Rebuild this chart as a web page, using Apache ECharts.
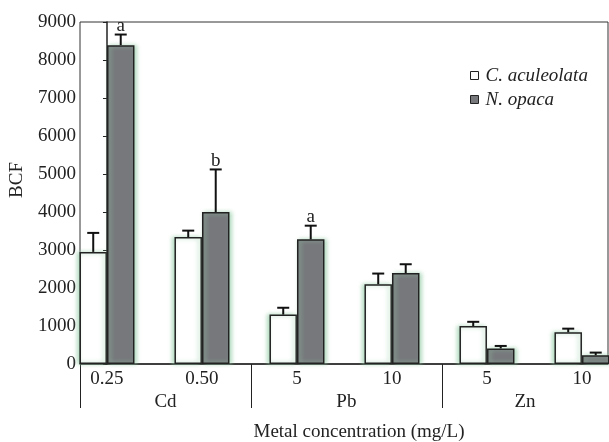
<!DOCTYPE html>
<html>
<head>
<meta charset="utf-8">
<script src="https://cdn.jsdelivr.net/npm/echarts@6/dist/echarts.min.js"></script>
<style>
  html, body { margin: 0; padding: 0; background: #fff; }
  #chart { width: 609px; height: 442px; }
</style>
</head>
<body>
<div id="chart"></div>
<script>
// data
var concLabels = ['0.25', '0.50', '5', '10', '5', '10']
var metals = ['Cd', 'Pb', 'Zn']
var metalPos = [0.616, 2.52, 4.4] // centre of each metal group (in concentration index units)
var groupEdges = [-0.284, 1.516, 3.526] // left axis + separators
var aculeolata = [2950, 3340, 1300, 2100, 1000, 835]
var aculeolataErr = [500, 170, 180, 280, 110, 95]
var opaca = [8390, 4000, 3280, 2395, 410, 230]
var opacaErr = [280, 1120, 360, 230, 65, 70]
var opacaLetters = ['a', 'b', 'a', '', '', '']

var serif = '"Liberation Serif", "DejaVu Serif", serif'
var barW = 27.5
var halo = 'rgba(150,205,168,0.75)'

function pairs(vals, errs, letters) {
  return vals.map(function(v, i) {
    return [i, v, errs[i], letters ? letters[i] : '']
  })
}

function errorSeries(name, vals, errs, letters, side) {
  var data = pairs(vals, errs, letters)
  return {
    name: name + ' err',
    type: 'custom',
    z: 5,
    encode: { x: 0, y: 1 },
    data: data,
    renderItem: function(params, api) {
      var d = data[params.dataIndex]
      var base = api.coord([d[0], d[1]])
      var top = api.coord([d[0], d[1] + d[2]])
      var cx = base[0] + side * barW / 2
      var children = [
        { type: 'line', shape: { x1: cx, y1: base[1], x2: cx, y2: top[1] }, style: { stroke: '#111', lineWidth: 2 } },
        { type: 'line', shape: { x1: cx - 6, y1: top[1], x2: cx + 6, y2: top[1] }, style: { stroke: '#111', lineWidth: 2 } }
      ]
      if (d[3]) {
        children.push({
          type: 'text',
          style: {
            text: d[3], x: cx, y: top[1] + 1,
            align: 'center', verticalAlign: 'bottom',
            font: '19px ' + serif, fill: '#222'
          }
        })
      }
      return { type: 'group', children: children }
    }
  }
}

var chart = echarts.init(document.getElementById('chart'))
chart.setOption({
  backgroundColor: '#fff',
  animation: false,
  grid: {
    left: 80, right: 1, top: 22, bottom: 78,
    outerBoundsMode: 'none',
    show: true, borderColor: '#333', borderWidth: 1
  },
  legend: {
    orient: 'vertical',
    left: 465,
    top: 61,
    itemWidth: 8,
    itemHeight: 8,
    itemGap: 5,
    icon: 'rect',
    data: ['C. aculeolata', 'N. opaca'],
    itemStyle: { shadowBlur: 0, shadowOffsetX: 0, borderWidth: 1, borderColor: '#222' },
    textStyle: { fontFamily: serif, fontStyle: 'italic', fontSize: 19, color: '#222', padding: [0, 0, 0, 2] }
  },
  xAxis: [
    {
      type: 'value',
      min: groupEdges[0],
      max: 5.274,
      splitLine: { show: false },
      axisLine: { show: true, onZero: false, lineStyle: { color: '#222', width: 1.5 } },
      axisTick: {
        show: true,
        customValues: groupEdges,
        length: 44,
        lineStyle: { color: '#222', width: 1 }
      },
      axisLabel: {
        customValues: [0, 1, 2, 3, 4, 5],
        formatter: function(v) { return concLabels[Math.round(v)] },
        margin: 6,
        fontFamily: serif,
        fontSize: 19,
        color: '#222'
      },
      name: 'Metal concentration (mg/L)',
      nameLocation: 'middle',
      nameGap: 59,
      nameTextStyle: { fontFamily: serif, fontSize: 19, color: '#222', padding: [0, 0, 0, 30] }
    },
    {
      type: 'value',
      position: 'bottom',
      min: groupEdges[0],
      max: 5.274,
      splitLine: { show: false },
      axisLine: { show: false },
      axisTick: { show: false },
      axisLabel: {
        customValues: metalPos,
        formatter: function(v) {
          var k = metalPos.indexOf(v)
          return k >= 0 ? metals[k] : ''
        },
        margin: 29,
        fontFamily: serif,
        fontSize: 19,
        color: '#222'
      }
    }
  ],
  yAxis: {
    type: 'value',
    min: 0,
    max: 9000,
    interval: 1000,
    splitLine: { show: false },
    axisLine: { show: true, lineStyle: { color: '#222', width: 1.5 } },
    axisTick: { show: true, length: 4, lineStyle: { color: '#222' } },
    axisLabel: {
      margin: 4, fontFamily: serif, fontSize: 19, color: '#222',
      formatter: function(v) { return String(v) }
    },
    name: 'BCF',
    nameLocation: 'middle',
    nameGap: 53,
    nameTextStyle: { fontFamily: serif, fontSize: 19, color: '#222', padding: [0, 0, 0, 26] }
  },
  series: [
    {
      name: 'C. aculeolata',
      type: 'bar',
      barWidth: barW,
      barGap: '0%',
      data: pairs(aculeolata, aculeolataErr).map(function(p) { return [p[0], p[1]] }),
      itemStyle: {
        color: '#fff', borderColor: '#222', borderWidth: 1.5,
        shadowColor: halo, shadowBlur: 4, shadowOffsetX: -2
      }
    },
    {
      name: 'N. opaca',
      type: 'bar',
      barWidth: barW,
      barGap: '0%',
      data: pairs(opaca, opacaErr).map(function(p) { return [p[0], p[1]] }),
      itemStyle: {
        color: '#77787c', borderColor: '#222', borderWidth: 1.5,
        shadowColor: halo, shadowBlur: 4, shadowOffsetX: 2
      }
    },
    errorSeries('C. aculeolata', aculeolata, aculeolataErr, null, -1),
    errorSeries('N. opaca', opaca, opacaErr, opacaLetters, 1)
  ]
})
</script>
</body>
</html>
